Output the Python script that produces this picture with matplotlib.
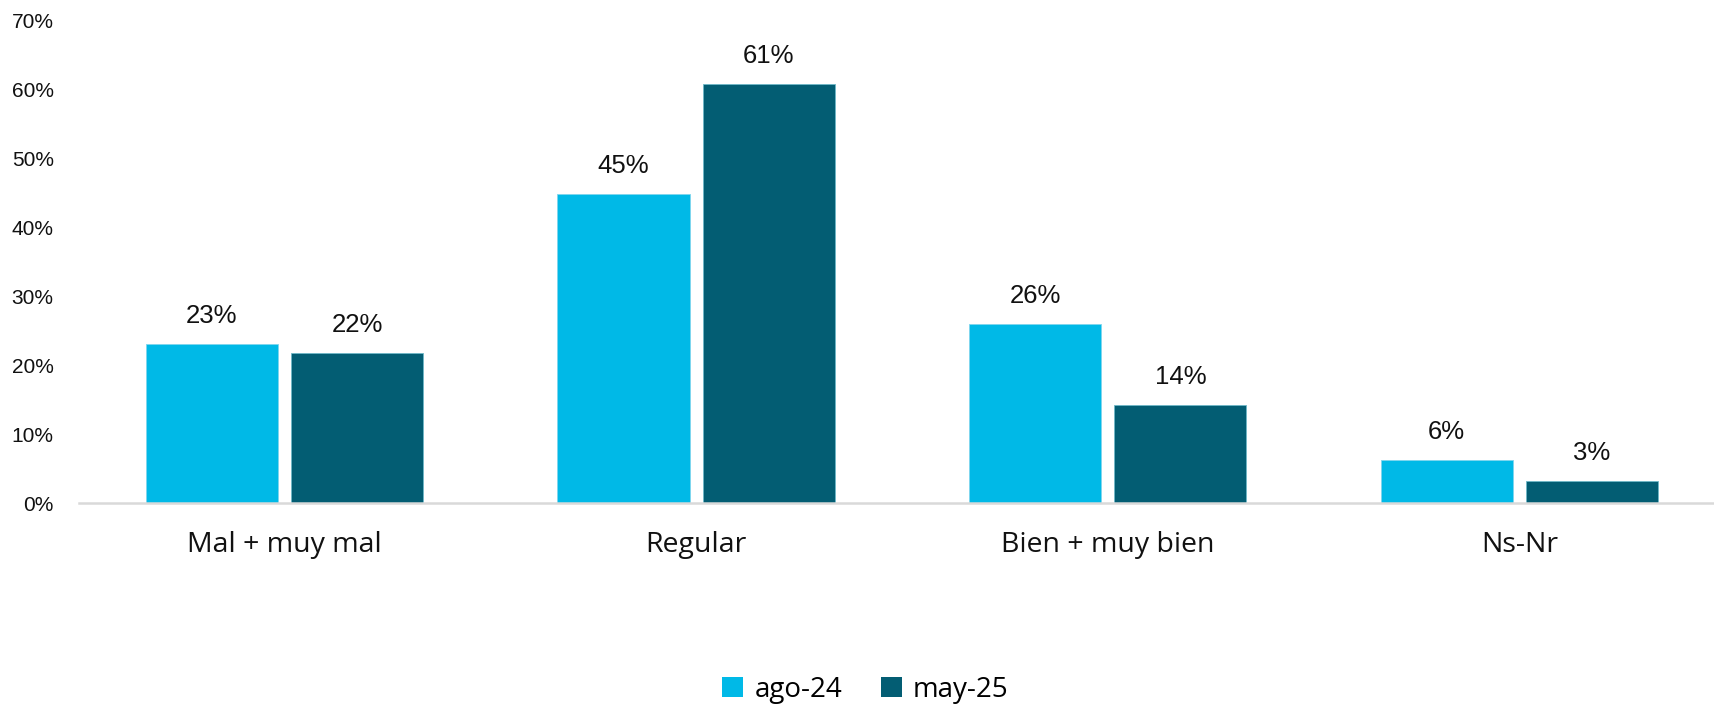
import matplotlib.pyplot as plt
import matplotlib as mpl
import numpy as np
from matplotlib.patches import Patch

mpl.rcParams["font.family"] = ["Liberation Sans", "DejaVu Sans"]

categories = ["Mal + muy mal", "Regular", "Bien + muy bien", "Ns-Nr"]
series_names = ["ago-24", "may-25"]
ago24 = [23.0, 44.8, 25.9, 6.3]
may25 = [21.7, 60.8, 14.2, 3.2]
labels_ago24 = ["23%", "45%", "26%", "6%"]
labels_may25 = ["22%", "61%", "14%", "3%"]
yticks = [0, 10, 20, 30, 40, 50, 60, 70]

COLORS = ["#00B9E7", "#035D73"]
CAT_FONT = ["Open Sans", "DejaVu Sans"]


def main():
    fig = plt.figure(figsize=(17.14, 7.04), dpi=100)
    ax = fig.add_axes([0.0459, 0.2855, 0.9606, 0.686])

    x = np.arange(len(categories))
    width = 0.321
    off = width / 2 + 0.016

    for vals, labs, color, sign in [(ago24, labels_ago24, COLORS[0], -1),
                                    (may25, labels_may25, COLORS[1], 1)]:
        bars = ax.bar(x + sign * off, vals, width=width, color=color,
                      edgecolor="#6FB8C8" if sign > 0 else "#7FD6EE", linewidth=0.6)
        for bar, lab in zip(bars, labs):
            ax.annotate(lab, (bar.get_x() + bar.get_width() / 2, bar.get_height()),
                        xytext=(0, 15), textcoords="offset points",
                        ha="center", va="baseline", fontsize=18.5, color="#111111")

    ax.set_xlim(-0.5, len(categories) - 0.5)
    ax.set_ylim(0, 70)
    ax.set_yticks(yticks)
    ax.set_yticklabels([f"{v}%" for v in yticks], fontsize=15, color="#111111")
    ax.set_xticks(x)
    ax.set_xticklabels(categories, fontsize=20.5, family=CAT_FONT, color="#111111")
    ax.tick_params(axis="x", length=0, pad=20)
    ax.tick_params(axis="y", length=0, pad=18)

    ax.spines[["top", "right", "left"]].set_visible(False)
    ax.spines["bottom"].set_color("#D9D9D9")
    ax.spines["bottom"].set_linewidth(1.8)

    handles = [Patch(facecolor=c, edgecolor="none") for c in COLORS]
    fig.legend(handles, series_names, loc="center", bbox_to_anchor=(0.505, 0.02),
               ncol=2, frameon=False, prop={"family": CAT_FONT, "size": 20},
               handlelength=0.75, handleheight=0.75, handletextpad=0.4,
               columnspacing=1.4)

    fig.savefig("out.png", dpi=100)


if __name__ == "__main__":
    main()
